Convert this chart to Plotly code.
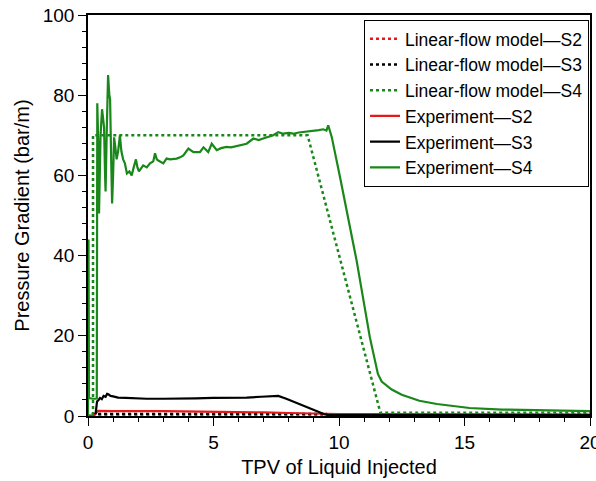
import plotly.graph_objects as go

# TPV of liquid injected (x) and pressure gradient in bar/m (y)

# Linear-flow model curves
model_s2_x = [0, 0.2, 0.2, 20]
model_s2_y = [0, 0, 0.4, 0.4]

model_s3_x = [0, 0.2, 0.2, 9.5, 9.6, 20]
model_s3_y = [0, 0, 0.5, 0.5, 0.15, 0.15]

model_s4_x = [0, 0.2, 0.2, 8.75, 11.65, 20]
model_s4_y = [0, 0, 70, 70, 0.8, 0.8]

# Experiment curves
exp_s2_x = [0, 0.22, 0.4, 1, 3, 5, 6, 7, 8, 9, 10, 12, 15, 20]
exp_s2_y = [0, 0, 1.3, 1.2, 1.2, 1.1, 1.0, 0.9, 0.75, 0.6, 0.5, 0.45, 0.4, 0.35]

exp_s3_x = [0.3, 0.36, 0.42, 0.48, 0.55, 0.62, 0.7, 0.76, 0.81, 0.9, 1.0, 1.2,
            1.5, 1.8, 2.34, 3.0, 3.67, 4.3, 4.98, 5.6, 6.32, 6.9, 7.38, 7.58,
            7.9, 8.31, 8.65, 8.98, 9.2, 9.44, 9.6, 12, 16, 20]
exp_s3_y = [0.4, 3.6, 4.0, 4.5, 4.2, 5.0, 4.8, 5.5, 5.4, 5.0, 4.9, 4.6,
            4.5, 4.4, 4.3, 4.3, 4.3, 4.4, 4.5, 4.5, 4.6, 4.8, 5.0, 5.0,
            4.3, 3.2, 2.4, 1.5, 1.0, 0.4, 0.25, 0.25, 0.25, 0.25]

exp_s4_x = [0, 0.02, 0.04, 0.1, 0.2, 0.3, 0.35, 0.37, 0.42, 0.44, 0.5, 0.56,
            0.6, 0.64, 0.68, 0.7, 0.75, 0.8, 0.85, 0.88, 0.92, 0.96, 1.0, 1.04,
            1.09, 1.14, 1.2, 1.27, 1.33, 1.4, 1.47, 1.55, 1.65, 1.74, 1.82, 1.91,
            1.97, 2.03, 2.2, 2.34, 2.47, 2.6, 2.67, 2.74, 2.8, 3.0, 3.13, 3.27,
            3.53, 3.67, 3.8, 4.0, 4.2, 4.46, 4.6, 4.79, 4.93, 5.13, 5.3, 5.52,
            5.7, 5.92, 6.1, 6.32, 6.59, 6.8, 6.98, 7.2, 7.38, 7.58, 7.78, 8.0,
            8.18, 8.4, 8.58, 8.8, 8.98, 9.2, 9.37, 9.5, 9.57, 9.61, 9.65, 9.71,
            10.04, 10.7, 11.23, 11.55, 11.7, 11.9, 12.1, 12.5, 13.2, 13.9, 15.2,
            16.5, 17.9, 19.9, 20]
exp_s4_y = [0, 44, 4.5, 4.4, 4.3, 4.3, 4.4, 78, 65, 50.5, 70, 76.5,
            74, 72, 60, 56, 72, 85, 80, 79, 65, 53, 60, 69.5,
            67, 64, 66, 70, 66, 64, 63, 60.5, 61, 60, 62, 64,
            62, 61, 62.5, 62, 63, 63.5, 65.5, 64, 63.7, 63, 64.2, 64,
            64.2, 64.5, 65, 66.7, 65.8, 65.8, 67, 65.8, 67.9, 66.3, 66.8, 67.1,
            67, 67.3, 67.5, 67.9, 69.2, 68.8, 69.2, 69.6, 70, 70.8, 70.4, 70.6,
            70.4, 70.7, 70.8, 71, 71.2, 71.3, 71.5, 71.2, 72.5, 71.5, 70.5, 69.6,
            59.6, 38.8, 19.6, 10.5, 8.6, 7.5, 6.6, 5.3, 3.8, 3.0, 2.0,
            1.6, 1.4, 1.2, 1.2]

RED = "rgb(230,25,25)"
BLACK = "rgb(0,0,0)"
GREEN = "rgb(25,135,25)"

fig = go.Figure()

models = [
    ("Linear-flow model\u2014S2", model_s2_x, model_s2_y, RED),
    ("Linear-flow model\u2014S3", model_s3_x, model_s3_y, BLACK),
    ("Linear-flow model\u2014S4", model_s4_x, model_s4_y, GREEN),
]
for name, xs, ys, color in models:
    fig.add_trace(go.Scatter(
        x=xs, y=ys, name=name, mode="lines",
        line=dict(color=color, width=2.5, dash="dot"),
    ))

experiments = [
    ("Experiment\u2014S2", exp_s2_x, exp_s2_y, RED),
    ("Experiment\u2014S3", exp_s3_x, exp_s3_y, BLACK),
    ("Experiment\u2014S4", exp_s4_x, exp_s4_y, GREEN),
]
for name, xs, ys, color in experiments:
    fig.add_trace(go.Scatter(
        x=xs, y=ys, name=name, mode="lines",
        line=dict(color=color, width=2.2),
    ))

axis_font = dict(family="Liberation Sans, Arial, sans-serif", size=19, color="black")

fig.update_layout(
    width=596,
    height=481,
    margin=dict(l=88, r=6, t=15, b=65),
    plot_bgcolor="white",
    paper_bgcolor="white",
    font=dict(family="Liberation Sans, Arial, sans-serif", color="black"),
    legend=dict(
        x=0.998, y=0.988, xanchor="right", yanchor="top",
        bordercolor="black", borderwidth=1, bgcolor="white",
        font=dict(size=17.5, color="black"),
        tracegroupgap=0,
    ),
    showlegend=True,
)

fig.update_xaxes(
    range=[0, 20], dtick=5, tick0=0, automargin=False,
    ticklabeloverflow="allow",
    ticks="outside", ticklen=8, tickwidth=1.3, tickcolor="black",
    minor=dict(dtick=1, ticks="outside", ticklen=4, tickwidth=1.2, tickcolor="black"),
    showline=True, linecolor="black", linewidth=1.5, mirror=True,
    showgrid=False, zeroline=False,
    tickfont=axis_font,
    title=dict(text="TPV of Liquid Injected", font=dict(size=20, color="black"), standoff=8),
)
fig.update_yaxes(
    range=[0, 100], dtick=20, tick0=0, automargin=False,
    ticklabeloverflow="allow",
    ticks="outside", ticklen=8, tickwidth=1.3, tickcolor="black",
    minor=dict(dtick=4, ticks="outside", ticklen=4, tickwidth=1.2, tickcolor="black"),
    showline=True, linecolor="black", linewidth=1.5, mirror=True,
    showgrid=False, zeroline=False,
    tickfont=axis_font,
    title=dict(text="Pressure Gradient (bar/m)", font=dict(size=20, color="black"), standoff=8),
)

# drop the default page margin so the figure sits at the window's corner
fig.write_html(
    "out.html",
    config={"displayModeBar": False},
    post_script="document.body.style.margin = '0';",
)
